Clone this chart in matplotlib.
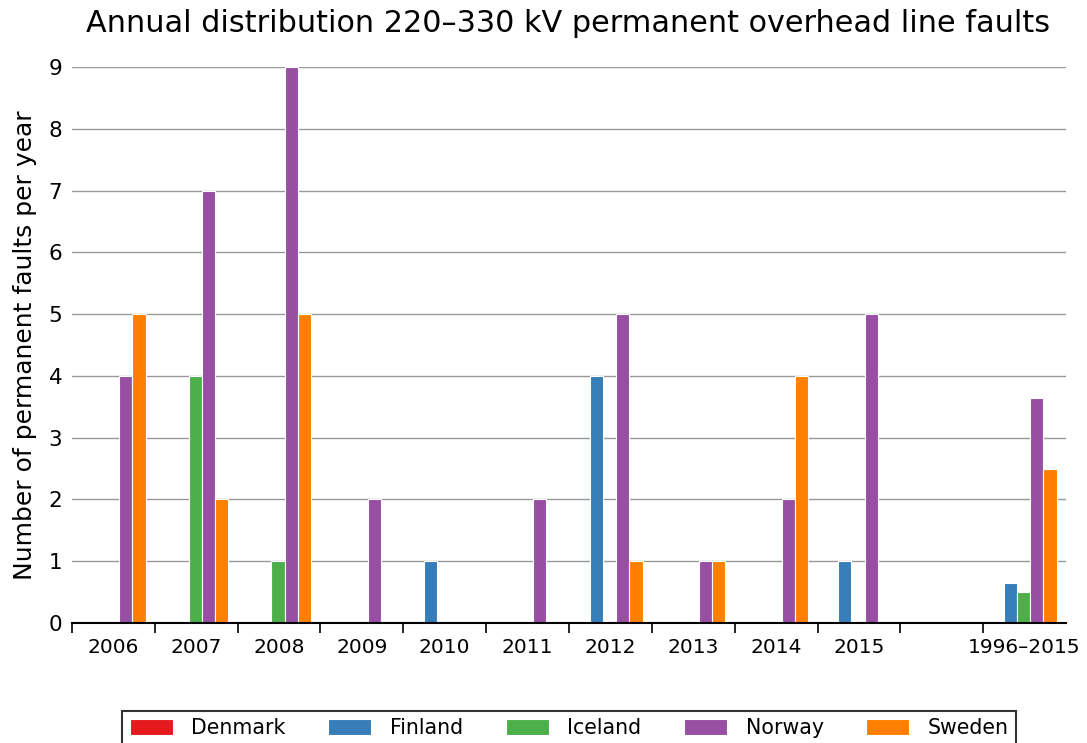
import matplotlib
matplotlib.use("Agg")
import matplotlib.pyplot as plt
import numpy as np

groups = ["2006", "2007", "2008", "2009", "2010", "2011", "2012", "2013", "2014", "2015", "", "1996–2015"]
countries = ["Denmark", "Finland", "Iceland", "Norway", "Sweden"]
colors = ["#e41a1c", "#377eb8", "#4daf4a", "#984ea3", "#ff7f00"]

denmark = [0, 0, 0, 0, 0, 0, 0, 0, 0, 0, 0, 0]
finland = [0, 0, 0, 0, 1, 0, 4, 0, 0, 1, 0, 0.65]
iceland = [0, 4, 1, 0, 0, 0, 0, 0, 0, 0, 0, 0.5]
norway = [4, 7, 9, 2, 0, 2, 5, 1, 2, 5, 0, 3.65]
sweden = [5, 2, 5, 0, 0, 0, 1, 1, 4, 0, 0, 2.5]
series = [denmark, finland, iceland, norway, sweden]

fig = plt.figure(figsize=(10.87, 7.43), dpi=100)
ax = fig.add_axes([0.0662, 0.1615, 0.9145, 0.7483])

x = np.arange(len(groups))
pitch = 0.16
for k, (vals, c, name) in enumerate(zip(series, colors, countries)):
    ax.bar(x + 0.5 + (k - 2) * pitch - 0.012, vals, width=pitch, color=c,
           edgecolor="white", linewidth=0.8, label=name, zorder=3)

ax.set_xlim(0, len(groups))
ax.set_ylim(0, 9)
ax.set_yticks(range(0, 10))
ax.yaxis.grid(True, color="#999999", linewidth=1.0, zorder=0)
ax.set_axisbelow(True)
ax.tick_params(axis="y", length=0, labelsize=15.5, pad=7)

ax.set_xticks(np.arange(0, len(groups)))
ax.set_xticklabels([])
ax.set_xticks(x + 0.5, minor=True)
ax.set_xticklabels(groups, minor=True, fontsize=14.5)
ax.tick_params(axis="x", which="major", length=7, width=1.2, direction="out")
ax.tick_params(axis="x", which="minor", length=0, pad=11)

for s in ["top", "right", "left"]:
    ax.spines[s].set_visible(False)
ax.spines["bottom"].set_linewidth(1.5)
ax.spines["bottom"].set_zorder(5)

ax.set_ylabel("Number of permanent faults per year", fontsize=18, labelpad=8)
fig.text(0.5225, 1 - 24 / 743,
         "Annual distribution 220–330 kV permanent overhead line faults",
         fontsize=21.8, ha="center", va="center")

leg = fig.legend(loc="upper center", bbox_to_anchor=(0.5236, 1 - 711 / 743), ncol=5,
                 fontsize=14.8, frameon=True, fancybox=False, edgecolor="black",
                 handlelength=2.1, handleheight=0.75, columnspacing=2.07,
                 borderpad=0.35, handletextpad=0.9, borderaxespad=0)
leg.get_frame().set_linewidth(1.5)

fig.savefig("out.png", dpi=100)
